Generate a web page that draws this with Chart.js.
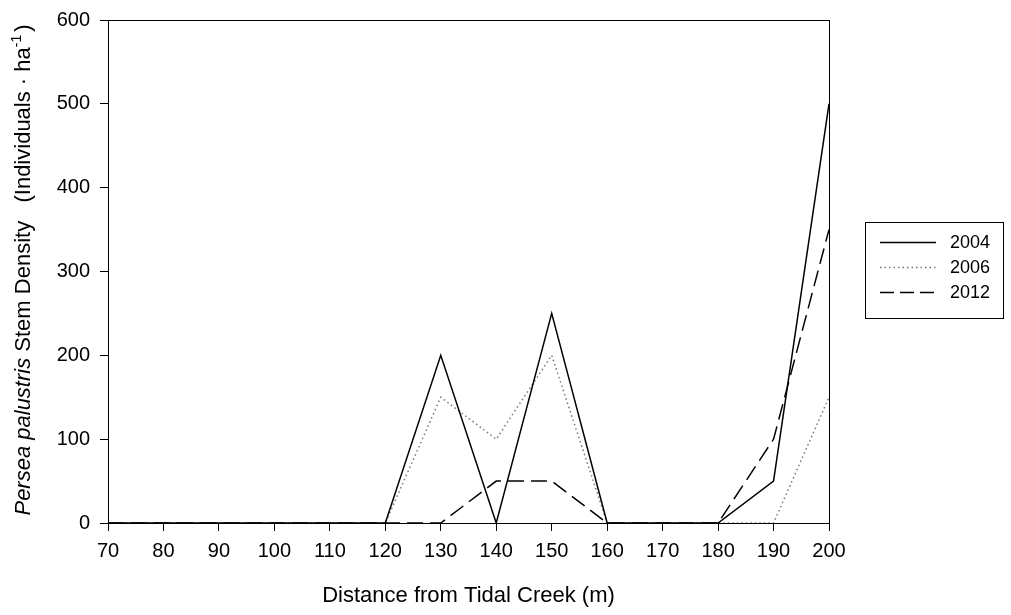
<!DOCTYPE html>
<html>
<head>
<meta charset="utf-8">
<script src="https://cdn.jsdelivr.net/npm/chart.js@4/dist/chart.umd.min.js"></script>
<style>
  body { margin: 0; background: #fff; }
  #wrap { width: 1011px; height: 615px; }
</style>
</head>
<body>
<div id="wrap"><canvas id="chart" width="1011" height="615"></canvas></div>
<script>
// Dữ liệu
const distances = [70, 80, 90, 100, 110, 120, 130, 140, 150, 160, 170, 180, 190, 200];
const y2004 = [0, 0, 0, 0, 0, 0, 200, 0, 250, 0, 0, 0, 50, 500];
const y2006 = [0, 0, 0, 0, 0, 0, 150, 100, 200, 0, 0, 0, 0, 150];
const y2012 = [0, 0, 0, 0, 0, 0, 0, 50, 50, 0, 0, 0, 100, 350];
const seriesNames = ["2004", "2006", "2012"];

const FONT = "'Liberation Sans', Arial, sans-serif";

function pts(arr) {
  return distances.map((x, i) => ({ x: x, y: arr[i] }));
}

const styles = [
  { color: "#000", dash: [], width: 1.5 },
  { color: "#777", dash: [1.5, 3], width: 1.5 },
  { color: "#000", dash: [16, 7], width: 1.5 }
];

// Khung, tiêu đề trục và chú giải
const decor = {
  id: "decor",
  afterDraw(chart) {
    const ctx = chart.ctx;
    const a = chart.chartArea;
    ctx.save();
    ctx.strokeStyle = "#000";
    ctx.lineWidth = 1;
    ctx.strokeRect(a.left + 0.5, a.top + 0.5, a.right - a.left, a.bottom - a.top);

    // tiêu đề trục X
    ctx.fillStyle = "#000";
    ctx.font = "22px " + FONT;
    ctx.textAlign = "center";
    ctx.textBaseline = "alphabetic";
    ctx.fillText("Distance from Tidal Creek (m)", (a.left + a.right) / 2, 602);

    // tiêu đề trục Y (xoay)
    ctx.translate(30, (a.top + a.bottom) / 2);
    ctx.rotate(-Math.PI / 2);
    const parts = [
      { t: "Persea palustris", f: "italic 22px " + FONT },
      { t: " Stem Density   (Individuals \u00b7 ha", f: "22px " + FONT },
      { t: "-1", f: "14px " + FONT, sup: true },
      { t: ")", f: "22px " + FONT }
    ];
    let total = 0;
    parts.forEach(p => { ctx.font = p.f; p.w = ctx.measureText(p.t).width; total += p.w; });
    let x = -total / 2;
    ctx.textAlign = "left";
    parts.forEach(p => {
      ctx.font = p.f;
      ctx.fillText(p.t, x, p.sup ? -9 : 0);
      x += p.w + (p.sup ? 3 : 0);
    });
    ctx.restore();

    // chú giải
    ctx.save();
    const bx = 865, by = 222, bw = 138, bh = 96;
    ctx.strokeStyle = "#000";
    ctx.lineWidth = 1;
    ctx.strokeRect(bx + 0.5, by + 0.5, bw, bh);
    ctx.font = "18px " + FONT;
    ctx.fillStyle = "#000";
    ctx.textBaseline = "middle";
    seriesNames.forEach((name, i) => {
      const yy = by + 20 + i * 25 + 0.5;
      const s = styles[i];
      ctx.beginPath();
      ctx.setLineDash(s.dash.length ? (i === 2 ? [14, 6] : s.dash) : []);
      ctx.strokeStyle = s.color;
      ctx.lineWidth = s.width;
      ctx.moveTo(bx + 15, yy);
      ctx.lineTo(bx + 71, yy);
      ctx.stroke();
      ctx.setLineDash([]);
      ctx.fillText(name, bx + 85, yy + 1);
    });
    ctx.restore();
  }
};

new Chart(document.getElementById("chart"), {
  type: "line",
  data: {
    datasets: [y2004, y2006, y2012].map((arr, i) => ({
      label: seriesNames[i],
      data: pts(arr),
      borderColor: styles[i].color,
      borderDash: styles[i].dash,
      borderWidth: styles[i].width,
      pointRadius: 0,
      fill: false,
      tension: 0
    }))
  },
  options: {
    responsive: false,
    animation: false,
    layout: { padding: { top: 19, right: 182, left: 0, bottom: 0 } },
    plugins: { legend: { display: false }, tooltip: { enabled: false } },
    scales: {
      x: {
        type: "linear",
        min: 70, max: 200,
        afterFit: s => { s.height = 92; },
        ticks: { stepSize: 10, color: "#000", font: { family: FONT, size: 20 }, padding: 8, maxRotation: 0 },
        grid: { drawOnChartArea: false, tickLength: 8, color: "#000" },
        border: { color: "#000" }
      },
      y: {
        min: 0, max: 600,
        afterFit: s => { s.width = 108; },
        ticks: { stepSize: 100, color: "#000", font: { family: FONT, size: 20, lineHeight: 1 }, padding: 10 },
        grid: { drawOnChartArea: false, tickLength: 8, color: "#000" },
        border: { color: "#000" }
      }
    }
  },
  plugins: [decor]
});
</script>
</body>
</html>
